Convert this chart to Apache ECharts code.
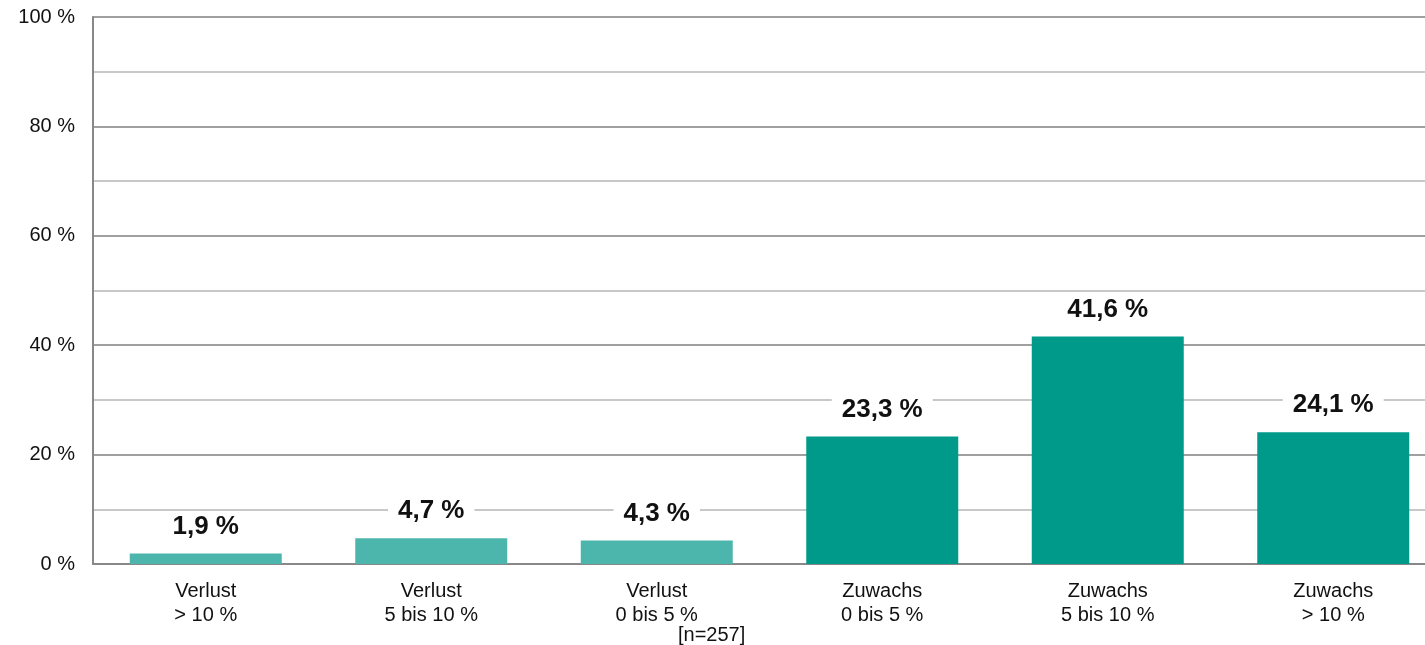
<!DOCTYPE html>
<html>
<head>
<meta charset="utf-8">
<script src="https://cdn.jsdelivr.net/npm/echarts@6/dist/echarts.min.js"></script>
<style>
    html, body { margin: 0; padding: 0; background: #fff; }
    #main { width: 1425px; height: 645px; }
</style>
</head>
<body>
<div id="main"></div>
<script>
// Daten
var categories = ['Verlust\n> 10 %', 'Verlust\n5 bis 10 %', 'Verlust\n0 bis 5 %', 'Zuwachs\n0 bis 5 %', 'Zuwachs\n5 bis 10 %', 'Zuwachs\n> 10 %'];
var values = [1.9, 4.7, 4.3, 23.3, 41.6, 24.1];
var barColors = ['#4db6ac', '#4db6ac', '#4db6ac', '#009a8a', '#009a8a', '#009a8a'];
var yTicks = [0, 20, 40, 60, 80, 100];

var myChart = echarts.init(document.getElementById('main'));

var barData = [];
for (var i = 0; i < values.length; i++) {
    barData.push({ value: values[i], itemStyle: { color: barColors[i] } });
}

var option = {
    animation: false,
    textStyle: { fontFamily: 'Arial' },
    grid: { left: 93, top: 17, right: -21, bottom: 81, outerBoundsMode: 'none' },
    xAxis: {
        type: 'category',
        data: categories,
        axisLine: { lineStyle: { color: '#888', width: 2 } },
        axisTick: { show: false },
        axisLabel: { color: '#111', fontSize: 20, lineHeight: 24, margin: 15, fontFamily: 'Arial' }
    },
    yAxis: {
        type: 'value',
        min: 0,
        max: 100,
        interval: 10,
        axisLine: { show: true, lineStyle: { color: '#888', width: 2 } },
        axisTick: { show: false },
        axisLabel: {
            color: '#111',
            fontSize: 20,
            margin: 18,
            fontFamily: 'Arial',
            formatter: function (v) {
                return yTicks.indexOf(v) >= 0 ? v + ' %' : '';
            }
        },
        splitLine: { lineStyle: { color: ['#a0a0a0', '#c8c8c8'], width: 2 } }
    },
    series: [{
        type: 'bar',
        data: barData,
        barWidth: 152,
        label: {
            show: true,
            position: 'top',
            distance: 12,
            color: '#111',
            fontSize: 26,
            fontWeight: 'bold',
            fontFamily: 'Arial',
            backgroundColor: '#fff',
            padding: [2, 10],
            formatter: function (p) {
                return String(p.value).replace('.', ',') + ' %';
            }
        }
    }],
    graphic: [{
        type: 'text',
        left: 678,
        top: 625,
        style: { text: '[n=257]', fontSize: 20, fill: '#111', fontFamily: 'Arial' }
    }]
};

myChart.setOption(option);
</script>
</body>
</html>
